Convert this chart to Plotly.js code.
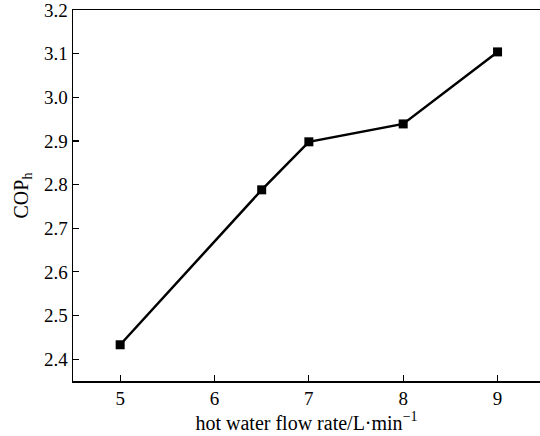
<!DOCTYPE html>
<html>
<head>
<meta charset="utf-8">
<script src="https://cdn.plot.ly/plotly-3.0.1.min.js"></script>
<style>html,body{margin:0;padding:0;background:#fff;}#chart{width:540px;height:436px;}</style>
</head>
<body>
<div id="chart"></div>
<script>
const flowRate = [5, 6.5, 7, 8, 9];
const copH = [2.433, 2.788, 2.898, 2.939, 3.104];
const yTicks = [2.4, 2.5, 2.6, 2.7, 2.8, 2.9, 3.0, 3.1, 3.2];
const xTicks = [5, 6, 7, 8, 9];

const tickFont = {family: 'Liberation Serif, serif', size: 19, color: '#000'};
const titleFont = {family: 'Liberation Serif, serif', size: 20, color: '#000'};

Plotly.newPlot('chart', [{
  x: flowRate,
  y: copH,
  mode: 'lines+markers',
  line: {color: '#000', width: 2.5},
  marker: {symbol: 'square', size: 9, color: '#000'},
  showlegend: false
}], {
  width: 540, height: 436,
  margin: {l: 73, r: 0, t: 10, b: 55},
  paper_bgcolor: '#fff', plot_bgcolor: '#fff',
  font: tickFont,
  xaxis: {
    range: [4.5, 9.45],
    tickvals: xTicks,
    ticktext: xTicks.map(String),
    ticks: 'inside', ticklen: 6, tickwidth: 1.2, tickcolor: '#000',
    showline: true, linecolor: '#000', linewidth: 1.5, mirror: true,
    showgrid: false, zeroline: false,
    tickfont: tickFont,
    ticklabeloverflow: 'allow',
    title: {text: 'hot water flow rate/L·min<sup>−1</sup>', font: titleFont, standoff: 6}
  },
  yaxis: {
    range: [2.35, 3.2],
    tickvals: yTicks,
    ticktext: yTicks.map(v => v.toFixed(1)),
    ticks: 'inside', ticklen: 6, tickwidth: 1.2, tickcolor: '#000',
    showline: true, linecolor: '#000', linewidth: 1.5,
    showgrid: false, zeroline: false,
    tickfont: tickFont,
    ticklabeloverflow: 'allow',
    title: {text: 'COP<sub>h</sub>', font: titleFont, standoff: 10}
  }
}, {staticPlot: true});
</script>
</body>
</html>
